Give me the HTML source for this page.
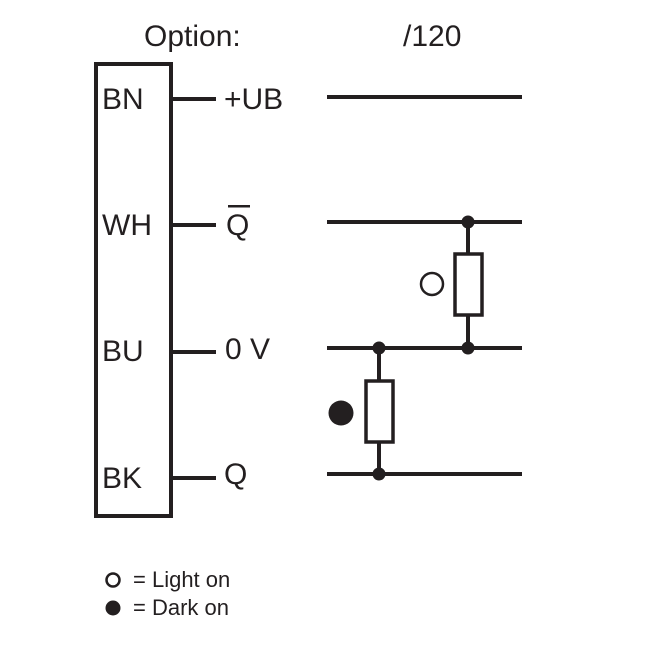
<!DOCTYPE html>
<html><head><style>body{margin:0;background:#fff}svg{display:block}</style></head><body>
<svg width="645" height="645" viewBox="0 0 645 645" font-family="Liberation Sans, sans-serif" fill="#231f20">
<g stroke="#231f20" stroke-width="4" fill="none">
<rect x="96" y="64" width="75" height="452"/>
<line x1="171" y1="99" x2="216" y2="99"/>
<line x1="171" y1="225" x2="216" y2="225"/>
<line x1="171" y1="352" x2="216" y2="352"/>
<line x1="171" y1="478" x2="216" y2="478"/>
<line x1="327" y1="97" x2="522" y2="97"/>
<line x1="327" y1="222" x2="522" y2="222"/>
<line x1="327" y1="348" x2="522" y2="348"/>
<line x1="327" y1="474" x2="522" y2="474"/>
<line x1="468" y1="222" x2="468" y2="348"/>
<line x1="379" y1="348" x2="379" y2="474"/>
<rect x="455" y="254" width="27" height="61" fill="#fff" stroke-width="3.5"/>
<rect x="366" y="381" width="27" height="61" fill="#fff" stroke-width="3.5"/>
<circle cx="432" cy="284" r="11" fill="#fff" stroke-width="2.5"/>
<circle cx="113" cy="580" r="6.5" fill="#fff" stroke-width="2.5"/>
</g>
<circle cx="468" cy="222" r="6.5"/><circle cx="468" cy="348" r="6.5"/>
<circle cx="379" cy="348" r="6.5"/><circle cx="379" cy="474" r="6.5"/>
<circle cx="341" cy="413" r="12.5"/>
<circle cx="113" cy="608" r="7.5"/>
<g font-size="30">
<text x="144" y="46">Option:</text>
<text x="403" y="46">/120</text>
<text x="102" y="109">BN</text>
<text x="102" y="235">WH</text>
<text x="102" y="361">BU</text>
<text x="102" y="488">BK</text>
<text x="224" y="109">+UB</text>
<text x="226" y="235">Q</text>
<text x="225" y="359">0 V</text>
<text x="224" y="484">Q</text>
</g>
<rect x="228" y="205" width="22" height="2.5"/>
<g font-size="22">
<text x="133" y="587">= Light on</text>
<text x="133" y="615">= Dark on</text>
</g>
</svg>
</body></html>
